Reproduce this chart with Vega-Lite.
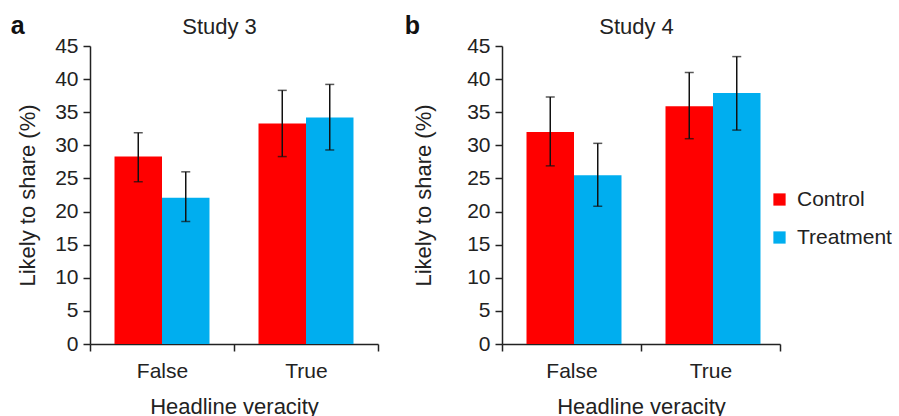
{
  "$schema": "https://vega.github.io/schema/vega-lite/v6.json",
  "padding": {"left": 10, "top": 14, "right": 0, "bottom": 0},
  "config": {
    "font": "Liberation Sans",
    "view": {"stroke": null},
    "axis": {
      "labelFont": "Liberation Sans", "titleFont": "Liberation Sans",
      "labelFontSize": 21, "titleFontSize": 22, "titleFontWeight": "normal",
      "labelColor": "#222", "titleColor": "#222", "domainColor": "#222", "tickColor": "#222",
      "domainWidth": 1.5, "tickWidth": 1.5, "tickSize": 7, "grid": false
    },
    "axisY": {"title": "Likely to share (%)", "values": [0, 5, 10, 15, 20, 25, 30, 35, 40, 45], "labelPadding": 5},
    "title": {"fontSize": 25, "fontWeight": "bold", "anchor": "start", "frame": "bounds", "color": "#111", "baseline": "alphabetic", "offset": -24}
  },
  "datasets": {
    "d": [
      {"study": "Study 3", "veracity": "False", "group": "Control", "value": 28.3, "lo": 24.5, "hi": 31.9},
      {"study": "Study 3", "veracity": "False", "group": "Treatment", "value": 22.1, "lo": 18.5, "hi": 26.0},
      {"study": "Study 3", "veracity": "True", "group": "Control", "value": 33.3, "lo": 28.3, "hi": 38.3},
      {"study": "Study 3", "veracity": "True", "group": "Treatment", "value": 34.2, "lo": 29.3, "hi": 39.2},
      {"study": "Study 4", "veracity": "False", "group": "Control", "value": 32.0, "lo": 26.9, "hi": 37.3},
      {"study": "Study 4", "veracity": "False", "group": "Treatment", "value": 25.5, "lo": 20.8, "hi": 30.3},
      {"study": "Study 4", "veracity": "True", "group": "Control", "value": 35.9, "lo": 31.0, "hi": 41.0},
      {"study": "Study 4", "veracity": "True", "group": "Treatment", "value": 37.9, "lo": 32.3, "hi": 43.4}
    ]
  },
  "spacing": 25,
  "resolve": {"scale": {"color": "independent"}},
  "hconcat": [
    {
      "title": {"text": "a", "dx": -6},
      "width": 288, "height": 298,
      "data": {"name": "d"},
      "transform": [{"filter": "datum.study === 'Study 3'"}],
      "encoding": {
        "x": {"field": "veracity", "type": "nominal", "scale": {"paddingInner": 0, "paddingOuter": 0}, "axis": null},
        "xOffset": {"field": "group", "type": "nominal", "scale": {"paddingInner": 0, "paddingOuter": 0.516}}
      },
      "layer": [
        {
          "mark": {"type": "bar"},
          "encoding": {
            "x": {"field": "veracity", "type": "nominal", "scale": {"paddingInner": 0, "paddingOuter": 0},
                  "axis": {"title": "Headline veracity", "labelAngle": 0, "tickBand": "extent", "labelPadding": 9, "titlePadding": 15}},
            "y": {"field": "value", "type": "quantitative", "scale": {"domain": [0, 45], "nice": false}, "axis": {"title": "Likely to share (%)", "titlePadding": 15}},
            "color": {"field": "group", "type": "nominal", "scale": {"domain": ["Control", "Treatment"], "range": ["#ff0000", "#00aeef"]}, "legend": null}
          }
        },
        {
          "mark": {"type": "rule", "strokeWidth": 1.5, "color": "#111"},
          "encoding": {
            "y": {"field": "lo", "type": "quantitative", "scale": {"domain": [0, 45], "nice": false}, "axis": {"title": "Likely to share (%)", "titlePadding": 15}},
            "y2": {"field": "hi"}
          }
        },
        {
          "mark": {"type": "tick", "orient": "horizontal", "size": 9, "thickness": 1.5, "color": "#111"},
          "encoding": {
            "y": {"field": "lo", "type": "quantitative", "scale": {"domain": [0, 45], "nice": false}, "axis": {"title": "Likely to share (%)", "titlePadding": 15}}
          }
        },
        {
          "mark": {"type": "tick", "orient": "horizontal", "size": 9, "thickness": 1.5, "color": "#111"},
          "encoding": {
            "x": {"field": "veracity", "type": "nominal", "scale": {"paddingInner": 0, "paddingOuter": 0},
                  "axis": {"orient": "top", "title": "Study 3", "labels": false, "ticks": false, "domain": false, "titlePadding": 8, "titleX": 129}},
            "y": {"field": "hi", "type": "quantitative", "scale": {"domain": [0, 45], "nice": false}, "axis": {"title": "Likely to share (%)", "titlePadding": 15}}
          }
        }
      ],
      "resolve": {"axis": {"x": "independent"}}
    },
    {
      "title": {"text": "b", "dx": -8},
      "width": 278, "height": 298,
      "data": {"name": "d"},
      "transform": [{"filter": "datum.study === 'Study 4'"}],
      "encoding": {
        "x": {"field": "veracity", "type": "nominal", "scale": {"paddingInner": 0, "paddingOuter": 0}, "axis": null},
        "xOffset": {"field": "group", "type": "nominal", "scale": {"paddingInner": 0, "paddingOuter": 0.516}}
      },
      "layer": [
        {
          "mark": {"type": "bar"},
          "encoding": {
            "x": {"field": "veracity", "type": "nominal", "scale": {"paddingInner": 0, "paddingOuter": 0},
                  "axis": {"title": "Headline veracity", "labelAngle": 0, "tickBand": "extent", "labelPadding": 9, "titlePadding": 15}},
            "y": {"field": "value", "type": "quantitative", "scale": {"domain": [0, 45], "nice": false}, "axis": {"title": "Likely to share (%)", "titlePadding": 31}},
            "color": {"field": "group", "type": "nominal", "scale": {"domain": ["Control", "Treatment"], "range": ["#ff0000", "#00aeef"]},
                      "legend": {"title": null, "orient": "none", "legendX": 267, "legendY": 143, "symbolType": "square", "symbolSize": 150, "symbolStrokeWidth": 0, "labelFontSize": 21, "labelFont": "Liberation Sans", "labelColor": "#222", "rowPadding": 16, "labelOffset": 7}}
          }
        },
        {
          "mark": {"type": "rule", "strokeWidth": 1.5, "color": "#111"},
          "encoding": {
            "y": {"field": "lo", "type": "quantitative", "scale": {"domain": [0, 45], "nice": false}, "axis": {"title": "Likely to share (%)", "titlePadding": 31}},
            "y2": {"field": "hi"}
          }
        },
        {
          "mark": {"type": "tick", "orient": "horizontal", "size": 9, "thickness": 1.5, "color": "#111"},
          "encoding": {
            "y": {"field": "lo", "type": "quantitative", "scale": {"domain": [0, 45], "nice": false}, "axis": {"title": "Likely to share (%)", "titlePadding": 31}}
          }
        },
        {
          "mark": {"type": "tick", "orient": "horizontal", "size": 9, "thickness": 1.5, "color": "#111"},
          "encoding": {
            "x": {"field": "veracity", "type": "nominal", "scale": {"paddingInner": 0, "paddingOuter": 0},
                  "axis": {"orient": "top", "title": "Study 4", "labels": false, "ticks": false, "domain": false, "titlePadding": 8, "titleX": 134}},
            "y": {"field": "hi", "type": "quantitative", "scale": {"domain": [0, 45], "nice": false}, "axis": {"title": "Likely to share (%)", "titlePadding": 31}}
          }
        }
      ],
      "resolve": {"axis": {"x": "independent"}}
    }
  ]
}
